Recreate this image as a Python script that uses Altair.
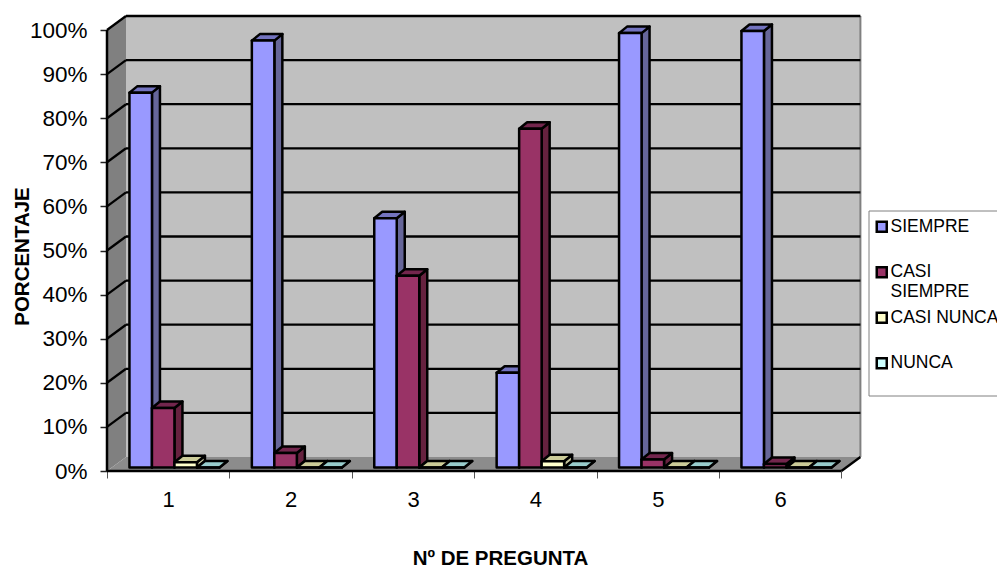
import altair as alt
import pandas as pd

preguntas = [1, 2, 3, 4, 5, 6]
series = ["SIEMPRE", "CASI SIEMPRE", "CASI NUNCA", "NUNCA"]
siempre = [85, 96.8, 56.5, 21.5, 98.5, 99]
casi_siempre = [13.5, 3.3, 43.5, 76.8, 1.8, 0.8]
casi_nunca = [1.2, 0, 0, 1.4, 0, 0]
nunca = [0, 0, 0, 0, 0, 0]
valores = [siempre, casi_siempre, casi_nunca, nunca]

front = ["#9999FF", "#993366", "#FFFFCC", "#CCFFFF"]
side = ["#666699", "#66223F", "#BFBF99", "#99BFBF"]
top = ["#7373BF", "#73264D", "#CCCC99", "#99CCCC"]

CAT = 122.4
PCT = 4.41
W, H = 754, 456
DX = 19 / CAT
DY = 14 / PCT
BX = 8 / CAT
BY = 6.5 / PCT
BASE = 3.5 / PCT
BAR = 22.5 / CAT

nx = len(preguntas)

xs = alt.Scale(domain=[0, W / CAT], nice=False, zero=False)
ys = alt.Scale(domain=[0, H / PCT], nice=False, zero=False)

ax_x = alt.Axis(
    values=[i / 2 for i in range(0, 2 * nx + 1)],
    domain=False, grid=False, tickSize=7, tickWidth=1, tickColor="#555555",
    tickOpacity=alt.condition("datum.value % 1 == 0", alt.value(1), alt.value(0)),
    labelExpr="datum.value % 1 ? ceil(datum.value) : ''",
    labelFont="Liberation Sans", labelFontSize=22, labelColor="black",
    labelPadding=11, labelFlush=False, labelOverlap=False,
    title="Nº DE PREGUNTA", titleFont="Liberation Sans", titleFontSize=20.5, titleFontWeight="bold",
    titleColor="black", titleX=393, titleY=87, titleBaseline="middle",
)
ax_y = alt.Axis(
    values=list(range(0, 101, 10)),
    domain=False, grid=False, tickSize=7, tickWidth=1.5, tickColor="#222222",
    labelExpr="datum.value + '%'",
    labelFont="Liberation Sans", labelFontSize=22.5, labelColor="black",
    labelPadding=13, labelFlush=False, labelOverlap=False,
    title="PORCENTAJE", titleFont="Liberation Sans", titleFontSize=20.5, titleFontWeight="bold",
    titleColor="black", titleX=-85, titleY=241, titleBaseline="middle",
)
X = alt.X("x:Q", scale=xs, axis=ax_x)
Y = alt.Y("y:Q", scale=ys, axis=ax_y)
Y2 = alt.Y2("y2:Q")


def area(rows, **kw):
    return alt.Chart(pd.DataFrame(rows)).mark_area(orient="vertical", **kw).encode(x=X, y=Y, y2=Y2, detail="id:N")


left_wall = area([
    dict(id=0, x=0, y=0, y2=100),
    dict(id=0, x=DX, y=DY, y2=100 + DY),
], fill="#808080")
floor = area([
    dict(id=0, x=0, y=0, y2=0),
    dict(id=0, x=DX, y=0, y2=DY),
    dict(id=0, x=nx, y=0, y2=DY),
    dict(id=0, x=nx + DX, y=DY, y2=DY),
], fill="#8C8C8C")
back_wall = alt.Chart(pd.DataFrame([dict(x=DX, x2=nx + DX, y=DY, y2=100 + DY)])).mark_rect(
    fill="#C0C0C0"
).encode(x=X, x2="x2:Q", y=Y, y2=Y2)
right_edge = alt.Chart(pd.DataFrame([dict(x=nx + DX, y=DY, y2=100 + DY)])).mark_rule(
    color="#808080", strokeWidth=2
).encode(x=X, y=Y, y2=Y2)

ticks = list(range(10, 101, 10))
grid_back = alt.Chart(pd.DataFrame([dict(x=DX, x2=nx + DX, y=t + DY) for t in ticks])).mark_rule(
    color="black", strokeWidth=2.3
).encode(x=X, x2="x2:Q", y=Y)
diag_rows = []
for t in ticks:
    diag_rows += [dict(id=t, x=0, y=t), dict(id=t, x=DX, y=t + DY)]
diag_rows += [dict(id=0, x=nx, y=0), dict(id=0, x=nx + DX, y=DY)]
diagonals = alt.Chart(pd.DataFrame(diag_rows)).mark_line(color="black", strokeWidth=2.3).encode(x=X, y=Y, detail="id:N")

base_x = alt.Chart(pd.DataFrame([dict(x=0, x2=nx, y=0)])).mark_rule(color="black", strokeWidth=2.5).encode(
    x=X, x2="x2:Q", y=Y
)
base_y = alt.Chart(pd.DataFrame([dict(x=0, y=0, y2=100)])).mark_rule(color="black", strokeWidth=2.5).encode(
    x=X, y=Y, y2=Y2
)

legend_box = alt.Chart(pd.DataFrame([{"a": 1}])).mark_rect(
    fill="white", stroke="#808080", strokeWidth=1
).encode(x=alt.value(762), x2=alt.value(920), y=alt.value(196), y2=alt.value(381))

color = alt.Color(
    "serie:N",
    scale=alt.Scale(domain=series, range=front),
    sort=series,
    legend=alt.Legend(
        orient="none", legendX=766, legendY=203, title=None,
        symbolType="square", symbolSize=100, symbolStrokeColor="black", symbolStrokeWidth=2.5,
        labelFont="Liberation Sans", labelFontSize=17.5, labelColor="black", labelLimit=300,
        labelOffset=0, rowPadding=6.5, gridAlign="all",
        labelExpr="datum.label == 'CASI SIEMPRE' ? ['CASI', 'SIEMPRE'] : datum.label",
    ),
)

layers = [left_wall, back_wall, floor, right_edge, grid_back, diagonals, legend_box]
for s, nombre in enumerate(series):
    side_rows, top_rows, front_rows = [], [], []
    for i in range(nx):
        x0 = i + 22.45 / CAT + s * BAR
        x1 = x0 + BAR
        v = valores[s][i] + BASE
        side_rows += [
            dict(id=i, x=x1, y=BASE, y2=v),
            dict(id=i, x=x1 + BX, y=BASE + BY, y2=v + BY),
        ]
        top_rows += [
            dict(id=i, x=x0, y=v, y2=v),
            dict(id=i, x=x0 + BX, y=v, y2=v + BY),
            dict(id=i, x=x1, y=v, y2=v + BY),
            dict(id=i, x=x1 + BX, y=v + BY, y2=v + BY),
        ]
        front_rows.append(dict(serie=nombre, x=x0, x2=x1, y=v, y2=BASE))
    layers.append(area(side_rows, fill=side[s], stroke="black", strokeWidth=2.5, strokeJoin="round"))
    layers.append(area(top_rows, fill=top[s], stroke="black", strokeWidth=2.5, strokeJoin="round"))
    layers.append(
        alt.Chart(pd.DataFrame(front_rows))
        .mark_bar(stroke="black", strokeWidth=2.5, strokeJoin="round")
        .encode(x=X, x2="x2:Q", y=Y, y2=Y2, color=color)
    )
layers += [base_x, base_y]

chart = alt.layer(*layers).properties(
    width=W,
    height=H,
    autosize="none",
    padding={"left": 99, "top": 7, "right": 136, "bottom": 99},
    background="white",
).configure_view(stroke=None)

chart.save("out.html", embed_options={"renderer": "svg", "actions": False})
